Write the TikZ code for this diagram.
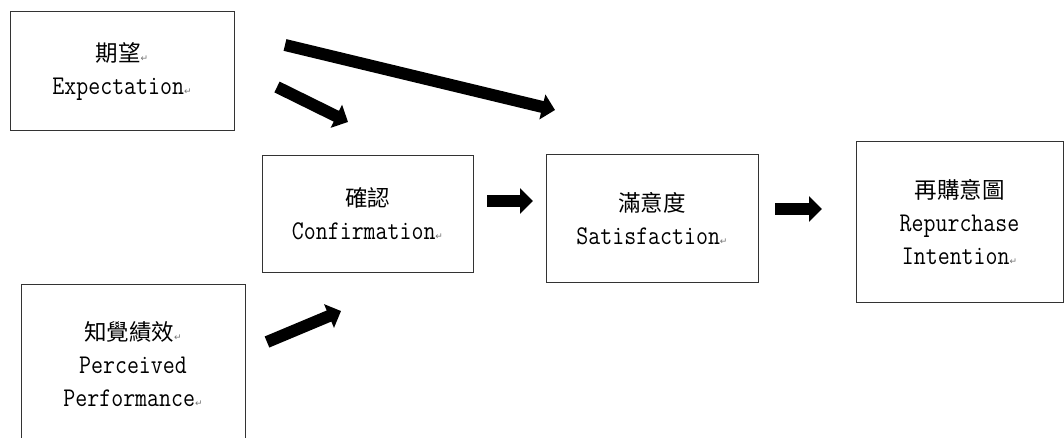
\documentclass[tikz,border=0pt]{standalone}
\usepackage{fontspec}
\usetikzlibrary{arrows.meta}
\newfontfamily\cjk{Noto Sans CJK TC}
\newfontfamily\dejavu{DejaVu Sans}
\newcommand{\pmark}{{\dejavu\fontsize{9}{9}\selectfont\color{black!55}↵}}
\newcommand{\lat}[1]{\scalebox{0.86}[1]{#1}}

\begin{document}
\begin{tikzpicture}[x=1pt, y=-1pt,
  box/.style={draw=black!80, line width=1pt, align=center, inner sep=0pt,
    font=\ttfamily\fontsize{27}{33}\selectfont},
  flow/.style={line width=12pt, -{Triangle[width=25pt, length=13pt]}}]
			\useasboundingbox (0,0) rectangle (1064,438);
			\clip (0,0) rectangle (1064,438);
			\node[box, minimum width=224, minimum height=119] (exp) at (122,71.5)
				{{\cjk\fontsize{22.5}{33}\selectfont 期望}\pmark\\\lat{Expectation}\pmark};
			\node[box, minimum width=211, minimum height=116] (conf) at (367.5,214)
				{{\cjk\fontsize{22.5}{33}\selectfont 確認}\\\lat{Confirmation}\pmark};
			\node[box, minimum width=212, minimum height=127] (sat) at (652,218.5)
				{{\cjk\fontsize{22.5}{33}\selectfont 滿意度}\\\lat{Satisfaction}\pmark};
			\node[box, minimum width=207, minimum height=160] (rep) at (959.5,222)
				{{\cjk\fontsize{22.5}{33}\selectfont 再購意圖}\\\lat{Repurchase}\\\lat{Intention}\pmark};
			\node[box, minimum width=224, minimum height=160] (perc) at (133,364)
				{{\cjk\fontsize{22.5}{33}\selectfont 知覺績效}\pmark\\\lat{Perceived}\\\lat{Performance}\pmark};
			% free ends of the block arrows
			\coordinate (expsat-a) at (285,45);   \coordinate (expsat-b) at (555,110);
			\coordinate (expconf-a) at (277,87);  \coordinate (expconf-b) at (348,122);
			\coordinate (percconf-a) at (267,342); \coordinate (percconf-b) at (341,311);
			\coordinate (confsat-a) at (487,201);  \coordinate (confsat-b) at (533,201);
			\coordinate (satrep-a) at (775,209);   \coordinate (satrep-b) at (822,209);
			\draw[flow] (expsat-a) -- (expsat-b);
			\draw[flow] (expconf-a) -- (expconf-b);
			\draw[flow] (percconf-a) -- (percconf-b);
			\draw[flow] (confsat-a) -- (confsat-b);
			\draw[flow] (satrep-a) -- (satrep-b);
		\end{tikzpicture}
\end{document}
